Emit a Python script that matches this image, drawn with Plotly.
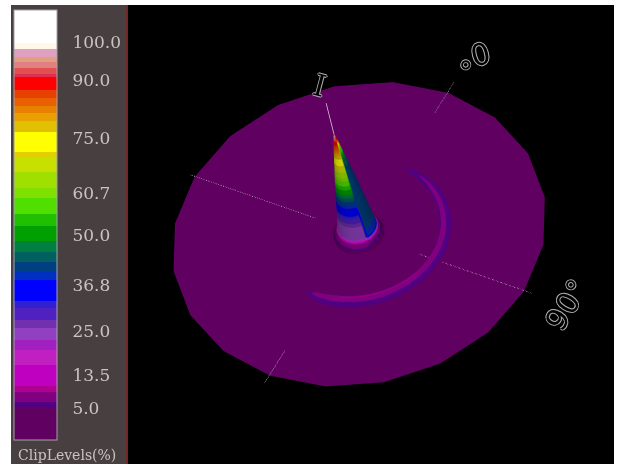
import math
import plotly.graph_objects as go

# ---- colour legend: band edges in % and colours, bottom to top
CMIN, CMAX = -3.3, 108.3
band_edges = [-3.3, 5.3, 6.6, 9.2, 10.7, 16.2, 20.1, 22.7, 25.8, 27.9, 31.0, 32.8, 38.2, 40.3, 42.9, 45.5, 48.4,
              52.3, 55.4, 59.5, 62.1, 66.3, 69.9, 71.5, 76.7, 79.5, 81.6, 83.4, 85.5, 87.6, 91.0, 91.8, 93.3,
              94.9, 96.2, 98.2, 99.8, 108.3]
band_colors = ["#600060", "#500080", "#800080", "#b00090", "#c000c0", "#c020c0", "#a020c0", "#9040c0",
               "#7030b0", "#5020c0", "#3020d0", "#0000ff", "#0030c0", "#004080", "#006060", "#008040",
               "#00a000", "#20c000", "#50e000", "#80e000", "#a0e000", "#c8e000", "#e0d000", "#ffff00",
               "#e0c000", "#e8a000", "#e88000", "#e86000", "#e84000", "#ff0000", "#e03050", "#e05050",
               "#e08080", "#e0a080", "#e0a0c0", "#fff8e8", "#ffffff"]
tick_values = [100.0, 90.0, 75.0, 60.7, 50.0, 36.8, 25.0, 13.5, 5.0]
tick_labels = ["100.0", "90.0", "75.0", "60.7", "50.0", "36.8", "25.0", "13.5", "5.0"]

# ---- polar surface, radius = angle off axis in degrees
azimuth_deg = [i * 9 for i in range(41)]
spike_radius = [0, 0.9, 1.8, 2.7, 3.6, 4.5, 5.4, 6.2, 7, 7.8, 8.6, 9.4, 10.3, 11.2, 12.5, 14]
spike_height = [97, 92, 84, 76, 68, 60, 52, 44, 36, 28, 20, 12, 9.5, 7, 3.5, 3]
# colour level on the two faces of the spike, row by row
spike_left_color = [97, 92, 84, 76, 68, 60, 52, 44, 37, 30, 24, 24, 9.5, 7, 3.5, 3]
spike_right_color = [97, 88, 60, 46, 42, 41, 41, 41, 41, 41, 41, 38, 8, 6, 3.5, 3]
right_face_columns = list(range(1, 14))

disc_radius = [14, 38.5, 41, 42.2, 43.4, 45, 47, 60, 75, 89]
ring_inner = [4, 5.5, 6, 6.5, 7, 7, 7.5, 7.5, 8, 8, 8.5, 8.5, 8.5, 8.8, 8.8, 9, 9, 9, 9, 8.8, 7.5, 5] + [3] * 17 + [4, 4]
ring_peak = [5, 6, 7, 7.5, 8, 8, 8.5, 8.5, 8.5, 8.8, 9, 9, 9.4, 9.4, 9.4, 9.4, 9.4, 9.4, 9.4, 9, 8, 5.5] + [3] * 17 + [5, 5]
ring_shoulder = [4.5, 5.5, 5.8, 6, 6, 6, 6, 6, 6.2, 6.2, 6.2, 6.2, 6.2, 6.2, 6.2, 6.2, 6.2, 6.2, 6.2, 6, 5.8, 5] + [3] * 17 + [4.5, 4.5]
ring_outer = [4, 4.5, 5, 5.4, 5.6, 5.8, 6, 6, 6, 6, 6.2, 6.2, 6.2, 6.2, 6.2, 6.2, 6.2, 6.2, 6, 6, 5.4, 4.5] + [3] * 17 + [4, 4]
flat_level = [3] * 41
# the rim is a 20-sided polygon: corners every 18 degrees
rim_radius = [91.5, 90.4] * 20 + [91.5]

# ---- axis lines (degrees from centre) and vertical line heights
axis0_far, axis0_near = [78, 98], [-97, -76]
axis90_far, axis90_near = [33, 96], [-94, -24]
vertical_heights = [0, 125]

disc_rows = [flat_level, flat_level, ring_inner, ring_peak, ring_shoulder, ring_outer, flat_level, flat_level,
             flat_level, flat_level, flat_level]
disc_radii = [disc_radius + [rim_radius[j]] for j in range(len(azimuth_deg))]
spike_rows = [[h] * len(azimuth_deg) for h in spike_height]
spike_colors = [[spike_right_color[i] if j in right_face_columns else spike_left_color[i]
                 for j in range(len(azimuth_deg))] for i in range(len(spike_height))]


def polar_x(r, a):
    return r * math.cos(math.radians(a))


def polar_y(r, a):
    return -r * math.sin(math.radians(a))


spike_x = [[polar_x(r, a) for a in azimuth_deg] for r in spike_radius]
spike_y = [[polar_y(r, a) for a in azimuth_deg] for r in spike_radius]
disc_x = [[polar_x(disc_radii[j][i], a) for j, a in enumerate(azimuth_deg)] for i in range(len(disc_rows))]
disc_y = [[polar_y(disc_radii[j][i], a) for j, a in enumerate(azimuth_deg)] for i in range(len(disc_rows))]

span = CMAX - CMIN
colorscale = []
for i, col in enumerate(band_colors):
    colorscale.append([(band_edges[i] - CMIN) / span, col])
    colorscale.append([(band_edges[i + 1] - CMIN) / span, col])

W, H = 620, 464
OUTLINE = "1px 0 0 #b0b0b0, -1px 0 0 #b0b0b0, 0 1px 0 #b0b0b0, 0 -1px 0 #b0b0b0"
fig = go.Figure()
fig.add_trace(go.Surface(
    x=disc_x, y=disc_y, z=disc_rows, surfacecolor=disc_rows, cmin=CMIN, cmax=CMAX, colorscale=colorscale,
    lighting=dict(ambient=1, diffuse=0, specular=0, roughness=1, fresnel=0),
    hoverinfo="skip",
    colorbar=dict(
        x=14 / W, xanchor="left", xpad=0, y=(H - 440) / H, yanchor="bottom", ypad=0,
        thickness=43, thicknessmode="pixels", len=430, lenmode="pixels",
        outlinecolor="#a8a0a8", outlinewidth=1, borderwidth=0,
        tickmode="array", tickvals=tick_values, ticktext=tick_labels, ticks="outside", ticklen=12,
        tickcolor="rgba(0,0,0,0)", tickfont=dict(family="DejaVu Serif", size=17, color="#c8c4c0"),
    ),
))
fig.add_trace(go.Surface(
    x=spike_x, y=spike_y, z=spike_rows, surfacecolor=spike_colors, cmin=CMIN, cmax=CMAX, colorscale=colorscale,
    showscale=False, hoverinfo="skip",
    lighting=dict(ambient=0.55, diffuse=0.5, specular=0, roughness=1, fresnel=0),
    lightposition=dict(x=46000, y=-85000, z=-35000),
))


def axis_line(rs, deg):
    fig.add_trace(go.Scatter3d(
        x=[polar_x(r, deg) for r in rs], y=[polar_y(r, deg) for r in rs],
        z=[4, 4], mode="lines", line=dict(color="#c8c0c8", width=1.5, dash="dot"), hoverinfo="skip", showlegend=False))


axis_line(axis0_far, 0)
axis_line(axis0_near, 0)
axis_line(axis90_far, 90)
axis_line(axis90_near, 90)
fig.add_trace(go.Scatter3d(x=[0, 0], y=[0, 0], z=vertical_heights, mode="lines",
                           line=dict(color="#d8d0d8", width=1.5), hoverinfo="skip", showlegend=False))

ZOOM = 1.645
fig.update_layout(
    width=W, height=H, margin=dict(l=0, r=0, t=0, b=0), paper_bgcolor="white", showlegend=False,
    scene=dict(
        domain=dict(x=[130 / W, 590 / W], y=[0, 453 / H]),
        bgcolor="black",
        xaxis=dict(visible=False, range=[-110, 110]),
        yaxis=dict(visible=False, range=[-110, 110]),
        zaxis=dict(visible=False, range=[-130, 130]),
        aspectmode="manual",
        aspectratio=dict(x=ZOOM * 110 / 90, y=ZOOM * 110 / 90, z=ZOOM * 2 * 0.5225 * 1.21),
        camera=dict(projection=dict(type="orthographic"),
                    eye=dict(x=-0.47 * 1.8, y=-0.39 * 1.8, z=0.79 * 1.8),
                    up=dict(x=0.760, y=0.313, z=0.57), center=dict(x=0, y=0, z=0)),
    ),
    shapes=[
        dict(type="rect", xref="paper", yref="paper", x0=128 / W, x1=614 / W, y0=0, y1=459 / H, fillcolor="black",
             line_width=0, layer="below"),
        dict(type="rect", xref="paper", yref="paper", x0=11 / W, x1=127 / W, y0=0, y1=459 / H, fillcolor="#484040",
             line_width=0, layer="below"),
        dict(type="rect", xref="paper", yref="paper", x0=126.5 / W, x1=128 / W, y0=0, y1=459 / H, fillcolor="#a01010",
             line_width=0, layer="below"),
    ],
    annotations=[
        dict(text="ClipLevels(%)", xref="paper", yref="paper", x=67 / W, y=(H - 455) / H, showarrow=False,
             xanchor="center", yanchor="middle", font=dict(family="DejaVu Serif", size=14, color="#c8c4c0")),
        dict(text="0°", xref="paper", yref="paper", x=473 / W, y=(H - 55) / H, showarrow=False, textangle=165,
             xanchor="center", yanchor="middle",
             font=dict(family="DejaVu Sans", size=30, color="black", shadow=OUTLINE)),
        dict(text="90°", xref="paper", yref="paper", x=566 / W, y=(H - 305) / H, showarrow=False, textangle=-58,
             xanchor="center", yanchor="middle",
             font=dict(family="DejaVu Sans", size=30, color="black", shadow=OUTLINE)),
        dict(text="I", xref="paper", yref="paper", x=320 / W, y=(H - 85) / H, showarrow=False, textangle=15,
             xanchor="center", yanchor="middle",
             font=dict(family="DejaVu Serif", size=30, color="black", shadow=OUTLINE)),
    ],
)
fig.write_html("out.html", config=dict(displayModeBar=False),
               post_script="document.body.style.margin='0';document.documentElement.style.overflow='hidden';")
